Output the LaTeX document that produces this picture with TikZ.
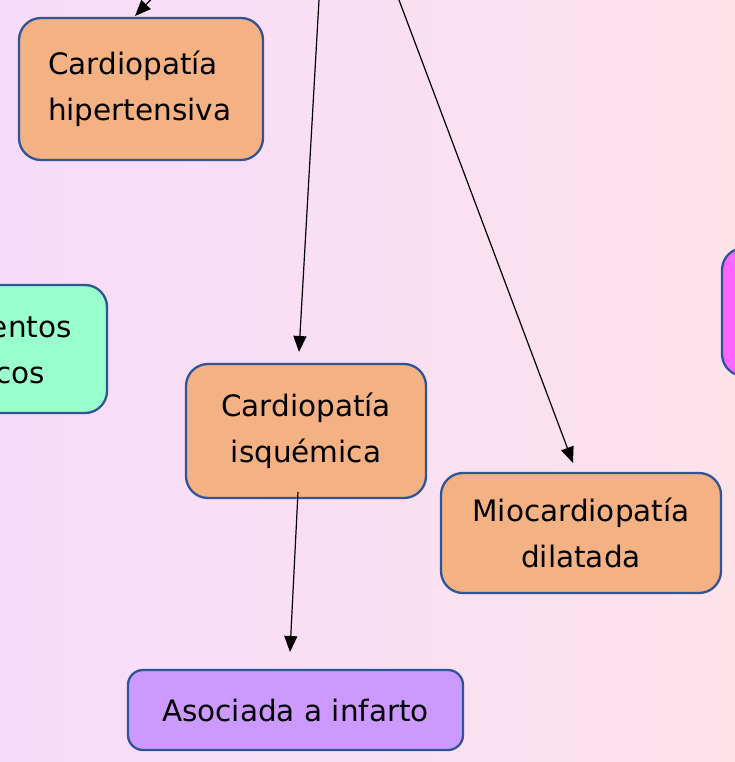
\documentclass[tikz,border=0pt]{standalone}
\usepackage{fontspec}
\setmainfont{DejaVu Sans}
\usetikzlibrary{arrows.meta}
\definecolor{bgleft}{RGB}{246,220,250}
\definecolor{bgright}{RGB}{253,226,234}
\definecolor{edgeblue}{RGB}{47,85,151}
\definecolor{salmon}{RGB}{244,177,131}
\definecolor{mint}{RGB}{153,255,204}
\definecolor{lilac}{RGB}{204,153,255}
\definecolor{magentabox}{RGB}{255,102,255}
\tikzset{
  box/.style={draw=edgeblue, line width=2.3pt, rounded corners=22pt, inner sep=0pt,
    font=\fontsize{29.5}{46}\selectfont, align=center},
  arr/.style={line width=1.2pt, -{Triangle[length=16pt,width=13pt]}},
  lbl/.style={font=\fontsize{29.5}{46}\selectfont, inner sep=0pt}
}
\begin{document}
\begin{tikzpicture}[x=1pt,y=-1pt]
\useasboundingbox (0,0) rectangle (735,762);
\shade[left color=bgleft, right color=bgright] (0,0) rectangle (735,762);
\clip (0,0) rectangle (735,762);
% boxes
\node[box, fill=salmon, minimum width=244pt, minimum height=142pt,
  text width=196pt, inner xsep=24pt, align=left] (hip) at (141,89)
  {\hspace*{5pt}Cardiopatía\\\hspace*{5pt}hipertensiva};
\node[box, fill=mint, minimum width=244pt, minimum height=128pt] (med) at (-15,349) {};
\node[lbl, anchor=base east] (medA) at (72,337) {entos};
\node[lbl, anchor=base east] (medB) at (45,383) {cos};
\node[box, fill=magentabox, minimum width=240pt, minimum height=128pt] (mag) at (842,312) {};
\node[box, fill=salmon, minimum width=240pt, minimum height=134pt] (isq) at (306,431)
  {Cardiopatía\\isquémica};
\node[box, fill=salmon, minimum width=280pt, minimum height=120pt] (mio) at (581,533)
  {Miocardiopatía\\dilatada};
\node[box, fill=lilac, rounded corners=15pt, minimum width=335pt, minimum height=80pt] (aso) at (295.5,710)
  {Asociada a infarto};
% connector ends
\coordinate (s0) at (165,-15);
\coordinate (t0) at (135,16);
\coordinate (s1) at (319,0);
\coordinate (t1) at (299,352);
\coordinate (s2) at (399,0);
\coordinate (t2) at (573,463);
\coordinate (s3) at (298,492);
\coordinate (t3) at (290,652);
\draw[arr] (s0) -- (t0);
\draw[arr] (s1) -- (t1);
\draw[arr] (s2) -- (t2);
\draw[arr] (s3) -- (t3);
\end{tikzpicture}
\end{document}
